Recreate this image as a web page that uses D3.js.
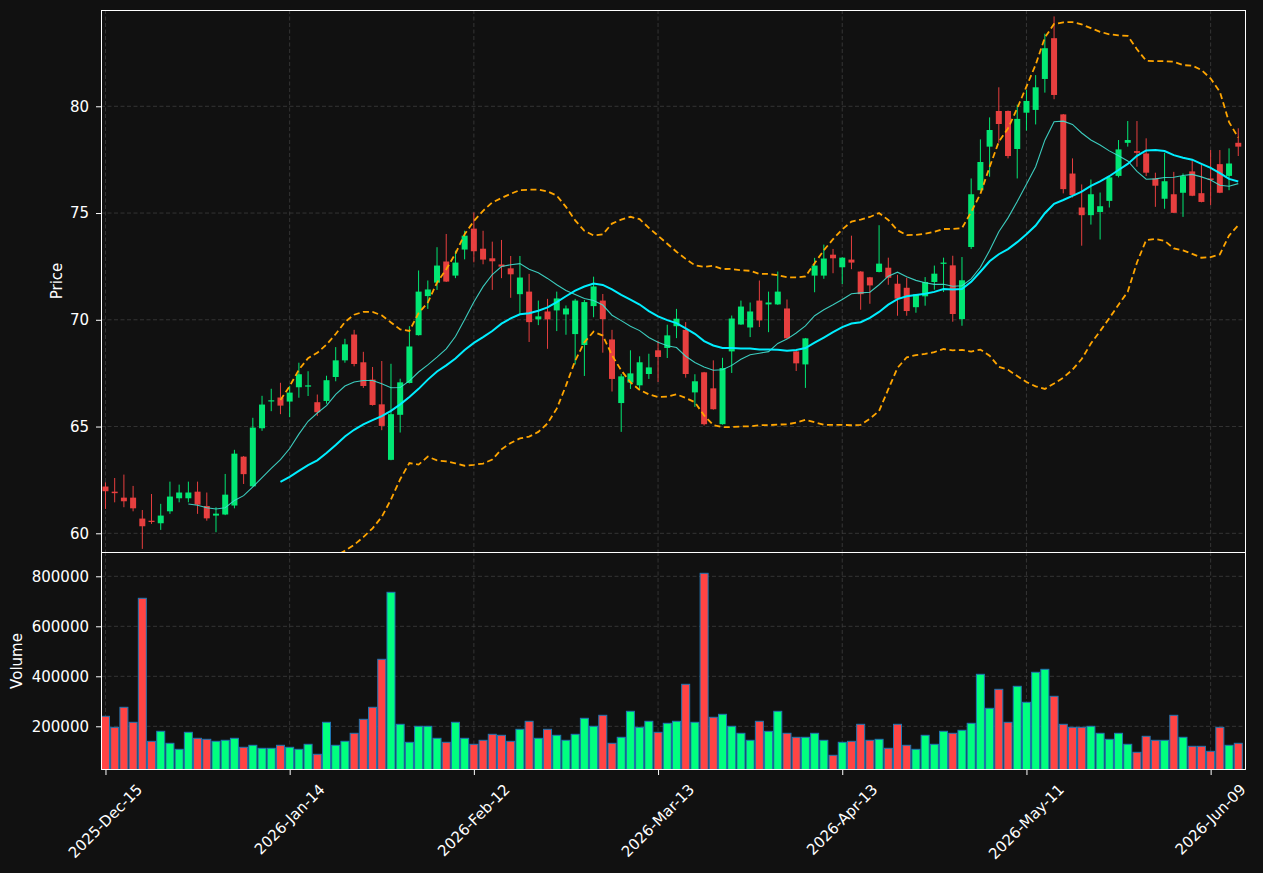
<!DOCTYPE html>
<html>

<head>
  <title>Candles</title>
  <style type="text/css">
    body {
      margin: 0;
      background: #111111;
    }

    svg text {
      font-family: "DejaVu Sans", sans-serif;
      fill: #ffffff;
    }
  </style>
</head>

<body>
  <svg id="chart" width="1263" height="873"></svg>
  <script type="text/javascript" src="https://cdn.jsdelivr.net/npm/d3@7"></script>
  <script type="text/javascript">
    // ticks on the x axis (bar index -> label)
    var tickIdx = [0, 20, 40, 60, 80, 100, 120];
    var tickLabels = ["2025-Dec-15", "2026-Jan-14", "2026-Feb-12", "2026-Mar-13",
      "2026-Apr-13", "2026-May-11", "2026-Jun-09"];
    var priceTicks = [60, 65, 70, 75, 80];
    var volTicks = [200000, 400000, 600000, 800000];

    var open = [62.19, 61.95, 61.67, 61.67, 60.69, 60.59, 60.47, 61.03, 61.64, 61.64,
      61.95, 61.28, 60.83, 60.88, 61.30, 63.59, 62.20, 64.92, 66.19, 66.36,
      66.17, 66.84, 66.87, 66.14, 66.20, 67.32, 68.10, 69.31, 68.01, 67.20,
      66.04, 63.44, 65.55, 67.04, 69.28, 71.11, 71.74, 72.73, 72.07, 73.29,
      74.27, 73.33, 72.88, 72.59, 72.41, 71.20, 71.32, 70.02, 70.39, 70.44,
      70.25, 69.33, 68.82, 70.64, 70.90, 69.08, 66.10, 67.06, 66.93, 67.46,
      68.57, 68.68, 69.70, 69.53, 66.60, 67.54, 66.79, 65.11, 68.52, 69.78,
      69.64, 70.90, 70.72, 70.72, 70.53, 68.52, 67.91, 72.07, 72.07, 73.05,
      72.46, 72.82, 72.26, 71.99, 72.24, 72.44, 71.69, 71.50, 70.59, 71.10,
      71.77, 72.62, 72.55, 70.03, 73.41, 76.07, 78.11, 79.78, 79.78, 78.00,
      79.70, 79.83, 81.28, 83.19, 79.62, 76.85, 75.26, 74.90, 75.05, 75.57,
      76.74, 78.29, 77.90, 77.79, 76.62, 75.67, 75.88, 75.95, 76.95, 75.93,
      76.62, 77.29, 76.74, 78.29];
    var high = [62.39, 62.59, 62.75, 62.22, 61.09, 61.84, 61.38, 62.42, 62.28, 62.42,
      62.42, 61.91, 61.22, 62.78, 63.91, 63.62, 65.41, 66.44, 66.77, 67.05,
      66.91, 67.99, 67.59, 66.50, 67.38, 68.72, 69.11, 69.53, 68.50, 67.79,
      68.07, 67.94, 67.24, 69.70, 72.31, 71.84, 73.40, 74.02, 73.24, 74.17,
      75.03, 74.17, 73.66, 73.74, 72.99, 72.99, 72.15, 70.90, 70.98, 71.32,
      70.67, 70.98, 70.93, 72.02, 71.21, 69.53, 67.46, 68.57, 68.29, 68.41,
      69.03, 69.77, 70.51, 69.89, 67.45, 67.56, 68.10, 68.22, 70.20, 70.90,
      70.81, 71.84, 71.32, 72.26, 70.95, 68.54, 69.15, 72.90, 73.52, 73.32,
      72.93, 73.94, 72.28, 72.01, 74.43, 72.91, 72.11, 71.97, 71.21, 72.00,
      72.54, 72.91, 73.00, 72.94, 76.62, 78.45, 79.48, 80.89, 79.80, 80.08,
      80.77, 81.46, 83.40, 84.21, 79.64, 77.56, 76.34, 76.57, 75.96, 76.69,
      78.42, 79.31, 79.31, 78.50, 76.89, 77.82, 76.93, 76.85, 77.48, 77.25,
      77.95, 77.95, 78.03, 78.97];
    var low = [61.14, 61.45, 61.22, 61.03, 59.27, 60.44, 60.16, 60.91, 61.45, 61.45,
      60.91, 60.59, 60.05, 60.85, 61.17, 62.31, 62.18, 64.80, 65.72, 65.58,
      65.44, 66.35, 66.43, 65.50, 66.07, 67.12, 67.99, 67.82, 66.81, 65.98,
      64.83, 63.42, 64.72, 67.02, 69.26, 70.51, 71.40, 71.77, 71.95, 72.83,
      72.69, 72.60, 71.40, 71.95, 71.03, 70.28, 68.96, 69.75, 68.64, 69.47,
      69.30, 67.91, 67.37, 70.12, 68.46, 66.64, 64.75, 66.76, 66.74, 67.23,
      67.09, 68.21, 69.14, 67.29, 65.92, 65.05, 65.79, 65.09, 67.51, 69.76,
      69.19, 69.66, 69.42, 70.70, 69.11, 67.60, 66.81, 71.29, 71.92, 72.18,
      71.68, 72.37, 70.47, 70.75, 72.22, 71.64, 70.19, 70.19, 70.33, 70.66,
      71.41, 71.30, 69.91, 69.72, 73.32, 76.05, 76.70, 78.29, 77.56, 76.62,
      78.86, 79.15, 80.64, 80.33, 75.92, 75.73, 73.47, 74.46, 73.76, 75.26,
      76.67, 78.11, 77.17, 76.73, 75.29, 75.20, 75.00, 74.82, 75.79, 75.50,
      75.37, 75.93, 76.07, 77.67];
    var close = [61.97, 61.88, 61.50, 61.17, 60.33, 60.53, 60.83, 61.72, 61.91, 61.91,
      61.34, 60.70, 60.92, 61.81, 63.73, 62.77, 64.95, 66.03, 66.23, 65.98,
      66.59, 67.45, 66.93, 65.67, 67.17, 68.10, 68.85, 67.93, 66.90, 66.01,
      65.03, 65.58, 67.07, 68.75, 71.32, 71.42, 72.54, 71.79, 72.68, 73.94,
      73.21, 72.82, 72.74, 72.49, 72.13, 71.98, 69.89, 70.16, 70.02, 71.00,
      70.53, 70.90, 70.83, 71.56, 70.03, 67.23, 67.35, 67.49, 68.01, 67.77,
      68.26, 69.27, 70.05, 67.46, 67.12, 65.11, 65.81, 67.74, 70.06, 70.62,
      70.39, 69.97, 70.81, 71.32, 69.13, 67.96, 69.13, 72.54, 72.87, 72.88,
      72.91, 72.68, 71.20, 71.61, 72.63, 71.97, 70.99, 70.41, 71.19, 71.77,
      72.16, 72.68, 70.27, 71.85, 75.88, 77.39, 78.89, 79.17, 77.67, 79.41,
      80.25, 80.89, 82.72, 80.53, 76.12, 75.84, 74.90, 75.88, 75.32, 76.67,
      77.98, 78.42, 77.82, 76.89, 76.28, 76.49, 75.01, 76.73, 75.81, 75.52,
      76.55, 75.95, 77.32, 78.11];
    var volume = [240000, 196000, 276000, 216000, 712000, 140000, 180000, 132000, 108000, 176000,
      152000, 148000, 140000, 144000, 152000, 116000, 124000, 112000, 112000, 124000,
      116000, 108000, 128000, 88000, 216000, 124000, 140000, 172000, 228000, 276000,
      468000, 736000, 208000, 136000, 200000, 200000, 152000, 136000, 216000, 152000,
      128000, 144000, 168000, 164000, 140000, 188000, 220000, 152000, 188000, 164000,
      144000, 168000, 232000, 200000, 244000, 132000, 156000, 260000, 196000, 220000,
      176000, 212000, 220000, 368000, 216000, 812000, 236000, 248000, 200000, 172000,
      144000, 220000, 180000, 260000, 172000, 156000, 156000, 172000, 144000, 84000,
      136000, 140000, 208000, 144000, 148000, 112000, 208000, 124000, 108000, 164000,
      128000, 180000, 172000, 184000, 212000, 408000, 272000, 348000, 216000, 360000,
      296000, 416000, 428000, 320000, 208000, 196000, 196000, 200000, 172000, 148000,
      172000, 128000, 96000, 160000, 144000, 144000, 244000, 156000, 120000, 120000,
      100000, 196000, 124000, 132000];

    var upColor = "#00ff7f", downColor = "#ff4444";
    var left = 101, right = 1246,
      pTop = 10, pBottom = 552,
      vTop = 552, vBottom = 770;
    var fs = "15px";

    var svg = d3.select("#chart");
    svg.append("rect").attr("width", 1263).attr("height", 873).attr("fill", "#111111");

    var x = d3.scaleLinear().domain([-0.486, 123.84]).range([left, right]);
    var yP = d3.scaleLinear().domain([59.124, 84.51]).range([pBottom, pTop]);
    var yV = d3.scaleLinear().domain([25200, 897200]).range([vBottom, vTop]);

    var defs = svg.append("defs");
    defs.append("clipPath").attr("id", "clipP").append("rect")
      .attr("x", left).attr("y", pTop).attr("width", right - left).attr("height", pBottom - pTop);
    defs.append("clipPath").attr("id", "clipV").append("rect")
      .attr("x", left).attr("y", vTop).attr("width", right - left).attr("height", vBottom - vTop);

    // grid
    var grid = svg.append("g").attr("stroke", "#3d3d3d").attr("stroke-width", 0.8)
      .attr("stroke-dasharray", "4,2.5");
    tickIdx.forEach(function (t) {
      grid.append("line").attr("x1", x(t)).attr("x2", x(t)).attr("y1", pTop).attr("y2", pBottom);
      grid.append("line").attr("x1", x(t)).attr("x2", x(t)).attr("y1", vTop).attr("y2", vBottom);
    });
    priceTicks.forEach(function (t) {
      grid.append("line").attr("x1", left).attr("x2", right).attr("y1", yP(t)).attr("y2", yP(t));
    });
    volTicks.forEach(function (t) {
      grid.append("line").attr("x1", left).attr("x2", right).attr("y1", yV(t)).attr("y2", yV(t));
    });

    var idx = d3.range(close.length);
    function isUp(i) { return close[i] >= open[i]; }

    // candles
    var pg = svg.append("g").attr("clip-path", "url(#clipP)");
    var candles = pg.append("g").attr("opacity", 0.9);
    candles.selectAll("line").data(idx).enter().append("line")
      .attr("x1", function (i) { return x(i); })
      .attr("x2", function (i) { return x(i); })
      .attr("y1", function (i) { return yP(high[i]); })
      .attr("y2", function (i) { return yP(low[i]); })
      .attr("stroke", function (i) { return isUp(i) ? upColor : downColor; })
      .attr("stroke-width", 1);
    candles.selectAll("rect").data(idx).enter().append("rect")
      .attr("x", function (i) { return x(i) - 3; })
      .attr("width", 6)
      .attr("y", function (i) { return yP(Math.max(open[i], close[i])); })
      .attr("height", function (i) {
        return Math.max(1.2, Math.abs(yP(open[i]) - yP(close[i])));
      })
      .attr("fill", function (i) { return isUp(i) ? upColor : downColor; });

    // moving averages and bands
    function rolling(n) {
      return close.map(function (c, i) {
        if (i < n - 1) return null;
        var w = close.slice(i - n + 1, i + 1);
        return { m: d3.mean(w), s: d3.deviation(w) };
      });
    }
    var r10 = rolling(10), r20 = rolling(20);
    var line = d3.line().defined(function (d) { return d[1] != null; })
      .x(function (d) { return x(d[0]); }).y(function (d) { return yP(d[1]); });
    function pts(arr, f) { return arr.map(function (d, i) { return [i, d ? f(d) : null]; }); }

    pg.append("path").attr("d", line(pts(r20, function (d) { return d.m + 2 * d.s; })))
      .attr("fill", "none").attr("stroke", "#ffa500").attr("stroke-width", 1.8)
      .attr("stroke-dasharray", "6,3.5");
    pg.append("path").attr("d", line(pts(r20, function (d) { return d.m - 2 * d.s; })))
      .attr("fill", "none").attr("stroke", "#ffa500").attr("stroke-width", 1.8)
      .attr("stroke-dasharray", "6,3.5");
    pg.append("path").attr("d", line(pts(r10, function (d) { return d.m; })))
      .attr("fill", "none").attr("stroke", "#40e0d0").attr("stroke-opacity", 0.9)
      .attr("stroke-width", 1.1);
    pg.append("path").attr("d", line(pts(r20, function (d) { return d.m; })))
      .attr("fill", "none").attr("stroke", "#00eeff").attr("stroke-width", 2);

    // volume
    var vg = svg.append("g").attr("clip-path", "url(#clipV)");
    vg.selectAll("rect").data(idx).enter().append("rect")
      .attr("x", function (i) { return x(i) - 4; })
      .attr("width", 8)
      .attr("y", function (i) { return yV(volume[i]); })
      .attr("height", function (i) { return yV(0) - yV(volume[i]); })
      .attr("fill", function (i) { return isUp(i) ? upColor : downColor; })
      .attr("stroke", "#1f77b4").attr("stroke-width", 1);

    // frames
    svg.append("rect").attr("x", left + 0.5).attr("y", pTop + 0.5).attr("width", right - left - 1)
      .attr("height", pBottom - pTop).attr("fill", "none").attr("stroke", "#ffffff");
    svg.append("rect").attr("x", left + 0.5).attr("y", vTop + 0.5).attr("width", right - left - 1)
      .attr("height", vBottom - vTop - 1).attr("fill", "none").attr("stroke", "#ffffff");

    // axes
    function styleAxis(g) {
      g.select(".domain").remove();
      g.selectAll(".tick line").attr("stroke", "#ffffff");
      g.selectAll(".tick text").attr("fill", "#ffffff").style("font-size", fs)
        .style("font-family", "'DejaVu Sans', sans-serif");
    }
    svg.append("g").attr("transform", "translate(" + left + ",0)")
      .call(d3.axisLeft(yP).tickValues(priceTicks).tickSize(5).tickPadding(7)
        .tickFormat(d3.format("d")))
      .call(styleAxis);
    svg.append("g").attr("transform", "translate(" + left + ",0)")
      .call(d3.axisLeft(yV).tickValues(volTicks).tickSize(5).tickPadding(7)
        .tickFormat(d3.format("d")))
      .call(styleAxis);

    svg.append("g").attr("transform", "translate(0," + vBottom + ")")
      .call(d3.axisBottom(x).tickValues(tickIdx).tickSize(5).tickFormat(""))
      .call(styleAxis);

    // rotated date labels, bbox centred under each tick
    tickIdx.forEach(function (t, k) {
      var txt = svg.append("text").text(tickLabels[k])
        .style("font-size", fs)
        .attr("text-anchor", "middle")
        .attr("dominant-baseline", "central");
      var len = txt.node().getComputedTextLength();
      var half = (len + 11) / (2 * Math.SQRT2);
      var cx = x(t), cy = vBottom + 13 + half;
      txt.attr("x", cx).attr("y", cy)
        .attr("transform", "rotate(-45," + cx + "," + cy + ")");
    });

    svg.append("text").text("Price").style("font-size", fs)
      .attr("text-anchor", "middle").attr("dominant-baseline", "central")
      .attr("transform", "translate(57," + ((pTop + pBottom) / 2) + ") rotate(-90)");
    svg.append("text").text("Volume").style("font-size", fs)
      .attr("text-anchor", "middle").attr("dominant-baseline", "central")
      .attr("transform", "translate(17," + ((vTop + vBottom) / 2) + ") rotate(-90)");
  </script>
</body>

</html>
